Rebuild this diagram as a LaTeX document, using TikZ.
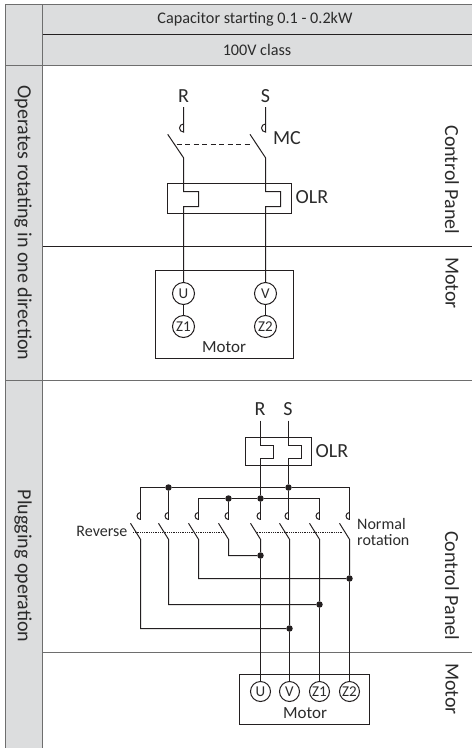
\documentclass[tikz,border=0pt]{standalone}
\usepackage{fontspec}
\setmainfont{Carlito}
\usepackage{tikz}
\definecolor{tablefill}{HTML}{DCDDDE}
\definecolor{tableline}{HTML}{6E6E6E}
\definecolor{wireink}{HTML}{231F20}
\definecolor{textink}{HTML}{2B2B2B}

\begin{document}
\begin{tikzpicture}[x = 1pt, y = 1pt]
        \tikzset{labelhead/.style = {text = textink, inner sep = 0pt, font = \fontsize{16.2}{18}\selectfont}}
        \tikzset{label/.style = {text = textink, inner sep = 0pt, font = \fontsize{20}{22}\selectfont}}
        \tikzset{labelside/.style = {label, rotate = -90}}
        \tikzset{labelsmall/.style = {text = textink, inner sep = 0pt, font = \fontsize{17}{19}\selectfont}}
        \tikzset{labelnote/.style = {text = textink, inner sep = 0pt, align = left, font = \fontsize{16}{16.5}\selectfont}}
        \tikzset{gridline/.style = {draw = tableline, line width = 1pt}}
        \tikzset{wire/.style = {draw = wireink, line width = 1pt}}
        \tikzset{linkdash/.style = {wire, dashed, dash pattern = on 5pt off 3.5pt}}
        \tikzset{linkdot/.style = {draw = wireink, line width = 0.8pt, dotted, dash pattern = on 0.8pt off 1pt}}
        \tikzset{panelbox/.style = {draw = wireink, line width = 1pt, inner sep = 0pt}}
        \tikzset{term/.style = {shape=circle, draw = wireink, fill = white, line width = 1pt, minimum size = 22pt, inner sep = 0pt, text = textink, font = \fontsize{15}{16}\selectfont}}
        \tikzset{termb/.style = {term, minimum size = 20pt}}
        \tikzset{joint/.style = {shape=circle, fill = wireink, minimum size = 6.5pt, inner sep = 0pt}}
        \useasboundingbox (0,-748) rectangle (472,0);

        % table
        \fill[tablefill] (5.5,-4.5) rectangle (472,-65.5);
        \fill[tablefill] (5.5,-65.5) rectangle (42.5,-748);
        \draw[gridline] (5.5,-748) -- (5.5,-4.5) -- (472,-4.5);
        \draw[gridline] (42.5,-748) -- (42.5,-4.5);
        \draw[gridline] (5.5,-65.5) -- (472,-65.5);
        \draw[gridline] (5.5,-380.5) -- (472,-380.5);
        \draw[wire] (42.5,-34.5) -- (472,-34.5);
        \draw[wire] (42.5,-246.5) -- (472,-246.5);
        \draw[gridline] (42.5,-652.5) -- (472,-652.5);
        \node[labelhead] (title) at (255,-19) {Capacitor starting 0.1 - 0.2kW};
        \node[labelhead] (class) at (257,-50) {100V class};
        \node[labelside] (rowa) at (23,-223) {Operates rotating in one direction};
        \node[labelside] (rowb) at (23,-566) {Plugging operation};
        \node[labelside] (panela) at (452,-180) {Control Panel};
        \node[labelside] (motora) at (452,-283) {Motor};
        \node[labelside] (panelb) at (452,-585.6) {Control Panel};
        \node[labelside] (motorb) at (452,-689) {Motor};

        % rotating in one direction
        \node[label] (r1) at (183.5,-96) {R};
        \node[label] (s1) at (265.5,-96) {S};
        \node[label] (mc) at (287,-138) {MC};
        \node[label] (olr1) at (312,-197) {OLR};
        \node[panelbox, minimum width = 138pt, minimum height = 88pt] (box1) at (224.5,-314.5) {};
        \node[labelsmall] (m1) at (224,-347) {Motor};
        \node[term] (u1) at (183.5,-293.5) {U};
        \node[term] (z11) at (183.5,-326.5) {Z1};
        \node[term] (v1) at (265.5,-293.5) {V};
        \node[term] (z21) at (265.5,-326.5) {Z2};
        \node[panelbox, minimum width = 124pt, minimum height = 30pt] (olrbox1) at (229.5,-198.5) {};
        \coordinate (r1a) at (183.5,-107);
        \coordinate (r1b) at (183.5,-132);
        \coordinate (r1c) at (167.7,-134.3);
        \coordinate (r1d) at (183.5,-157.7);
        \coordinate (s1a) at (265.5,-107);
        \coordinate (s1b) at (265.5,-132);
        \coordinate (s1c) at (250,-134.3);
        \coordinate (s1d) at (265.5,-157.7);
        \coordinate (dasha) at (176.7,-144.5);
        \coordinate (dashb) at (252.3,-144.5);
        \draw[wire] (r1a) -- (r1b) arc[start angle = 270, end angle = 90, radius = 4pt];
        \draw[wire] (s1a) -- (s1b) arc[start angle = 270, end angle = 90, radius = 4pt];
        \draw[wire] (r1c) -- (r1d) -- (183.5,-191.5) -- (198.5,-191.5) -- (198.5,-206.5) -- (183.5,-206.5) -- (u1);
        \draw[wire] (s1c) -- (s1d) -- (265.5,-191.5) -- (280.5,-191.5) -- (280.5,-206.5) -- (265.5,-206.5) -- (v1);
        \draw[linkdash] (dasha) -- (dashb);
        \draw[wire] (u1) -- (z11);
        \draw[wire] (v1) -- (z21);

        % plugging operation
        \node[label] (r2) at (260,-409) {R};
        \node[label] (s2) at (288,-409) {S};
        \node[label] (olr2) at (332,-451) {OLR};
        \node[labelnote, anchor = east] (rev) at (127.5,-531) {Reverse};
        \node[labelnote, anchor = north west] (norm) at (357,-518) {Normal\\rotation};
        \node[panelbox, minimum width = 66pt, minimum height = 28pt] (olrbox2) at (278.5,-451.5) {};
        \node[panelbox, minimum width = 130pt, minimum height = 50pt] (box2) at (304.5,-699.5) {};
        \node[labelsmall] (m2) at (305,-713) {Motor};
        \node[termb] (u2) at (260.5,-691.5) {U};
        \node[termb] (v2) at (289.5,-691.5) {V};
        \node[termb] (z12) at (319.5,-691.5) {Z1};
        \node[termb] (z22) at (349.5,-691.5) {Z2};
        \node[joint] (ja) at (168.5,-487.5) {};
        \node[joint] (jb) at (288.5,-487.5) {};
        \node[joint] (jc) at (228.5,-498.5) {};
        \node[joint] (jd) at (260.5,-498.5) {};
        \node[joint] (je) at (260.5,-555.5) {};
        \node[joint] (jf) at (349.5,-578.5) {};
        \node[joint] (jg) at (319.5,-604.5) {};
        \node[joint] (jh) at (289.5,-628.5) {};
        \coordinate (c1) at (140.5,-519.5);
        \coordinate (c2) at (168.5,-519.5);
        \coordinate (c3) at (198.5,-519.5);
        \coordinate (c4) at (228.5,-519.5);
        \coordinate (c5) at (260.5,-519.5);
        \coordinate (c6) at (288.5,-519.5);
        \coordinate (c7) at (319.5,-519.5);
        \coordinate (c8) at (349.5,-519.5);
        % feed
        \draw[wire] (260.5,-420.7) -- (260.5,-445.5) -- (273.5,-445.5) -- (273.5,-458.5) -- (260.5,-458.5) -- (jd);
        \draw[wire] (288.5,-420.7) -- (288.5,-445.5) -- (301.5,-445.5) -- (301.5,-458.5) -- (288.5,-458.5) -- (jb);
        \draw[wire] (c1) -- (140.5,-487.5) -- (ja) -- (jb) -- (349.5,-487.5) -- (c8);
        \draw[wire] (c3) -- (198.5,-498.5) -- (jc) -- (jd) -- (319.5,-498.5) -- (c7);
        \draw[wire] (ja) -- (c2);
        \draw[wire] (jc) -- (c4);
        \draw[wire] (jd) -- (c5);
        \draw[wire] (jb) -- (c6);
        \draw[wire] (c1) arc[start angle = 270, end angle = 90, radius = 3.5pt];
        \draw[wire] (c2) arc[start angle = 270, end angle = 90, radius = 3.5pt];
        \draw[wire] (c3) arc[start angle = 270, end angle = 90, radius = 3.5pt];
        \draw[wire] (c4) arc[start angle = 270, end angle = 90, radius = 3.5pt];
        \draw[wire] (c5) arc[start angle = 270, end angle = 90, radius = 3.5pt];
        \draw[wire] (c6) arc[start angle = 270, end angle = 90, radius = 3.5pt];
        \draw[wire] (c7) arc[start angle = 270, end angle = 90, radius = 3.5pt];
        \draw[wire] (c8) arc[start angle = 270, end angle = 90, radius = 3.5pt];
        % blades
        \draw[wire] (130.5,-523.3) -- (140.5,-539.3) -- (140.5,-628.5) -- (jh);
        \draw[wire] (158.5,-523.3) -- (168.5,-539.3) -- (168.5,-604.5) -- (jg);
        \draw[wire] (188.5,-523.3) -- (198.5,-539.3) -- (198.5,-578.5) -- (jf);
        \draw[wire] (218.5,-523.3) -- (228.5,-539.3) -- (228.5,-555.5) -- (je);
        \draw[wire] (250.5,-523.3) -- (260.5,-539.3) -- (je);
        \draw[wire] (279.5,-523.3) -- (289.5,-539.3) -- (jh);
        \draw[wire] (309.5,-523.3) -- (319.5,-539.3) -- (jg);
        \draw[wire] (339.5,-523.3) -- (349.5,-539.3) -- (jf);
        \draw[wire] (je) -- (u2);
        \draw[wire] (jh) -- (v2);
        \draw[wire] (jg) -- (z12);
        \draw[wire] (jf) -- (z22);
        \draw[linkdot] (133,-532.5) -- (224,-532.5);
        \draw[linkdot] (256.7,-532.5) -- (342.7,-532.5);
\end{tikzpicture}
\end{document}
